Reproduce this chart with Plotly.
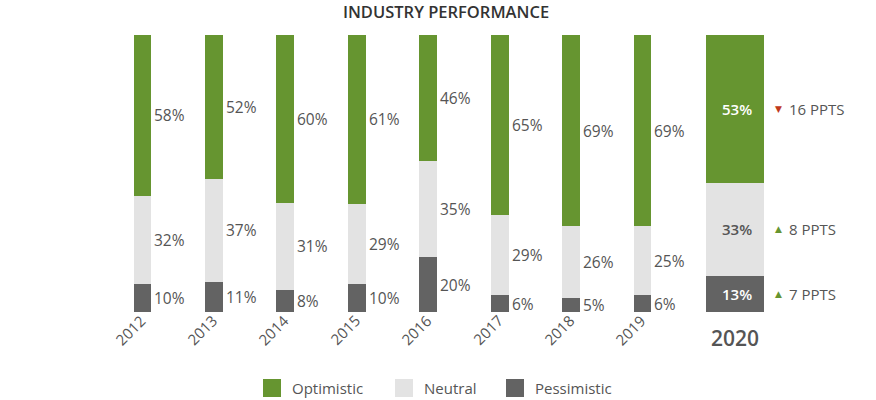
import plotly.graph_objects as go

years = ["2012", "2013", "2014", "2015", "2016", "2017", "2018", "2019", "2020"]
optimistic = [58, 52, 60, 61, 46, 65, 69, 69, 53]
neutral = [32, 37, 31, 29, 35, 29, 26, 25, 33]
pessimistic = [10, 11, 8, 10, 20, 6, 5, 6, 13]

GREEN = "#669530"
LIGHT = "#e3e3e3"
DARK = "#636363"
TXT = "#555555"
RED = "#c0391b"
FONT = "Open Sans"

n = len(years)
xs = list(range(n))
widths = [0.25] * (n - 1) + [0.81]
offsets = [-0.125] * (n - 1) + [-0.11]

fig = go.Figure()
series = [("Pessimistic", pessimistic, DARK),
          ("Neutral", neutral, LIGHT),
          ("Optimistic", optimistic, GREEN)]
for name, vals, col in series:
    fig.add_trace(go.Bar(x=xs, y=vals, name=name, marker=dict(color=col, line=dict(width=0)),
                         width=widths, offset=offsets, hoverinfo="skip", showlegend=False))

ann = []
for i, y in enumerate(years):
    tot = optimistic[i] + neutral[i] + pessimistic[i]
    base = 0
    for _, vals, col in series:
        v = vals[i]
        mid = (base + v / 2) / tot * 100
        base += v
        if i < n - 1:
            ann.append(dict(x=i, y=mid, text=f"{v}%", showarrow=False, xanchor="left",
                            xshift=10, font=dict(family=FONT, size=15.5, color=TXT)))
        else:
            c = TXT if col == LIGHT else "white"
            ann.append(dict(x=i, y=mid, text=f"{v}%", showarrow=False, xanchor="center",
                            xshift=23, font=dict(family=FONT, size=15, color=c, weight=600)))
    # category labels
    if i < n - 1:
        ann.append(dict(x=i, y=0, text=y, showarrow=False, textangle=-45,
                        xshift=-12, yshift=-18, font=dict(family=FONT, size=15, color=TXT)))
    else:
        ann.append(dict(x=i, y=0, text=y, showarrow=False,
                        xshift=21, yshift=-26, font=dict(family=FONT, size=21, color=TXT, weight=600)))

# change vs previous year, next to the last bar
last, prev = n - 1, n - 2
tot = optimistic[last] + neutral[last] + pessimistic[last]
changes = [(optimistic[last] - optimistic[prev], (pessimistic[last] + neutral[last] + optimistic[last] / 2) / tot * 100),
           (neutral[last] - neutral[prev], (pessimistic[last] + neutral[last] / 2) / tot * 100),
           (pessimistic[last] - pessimistic[prev], (pessimistic[last] / 2) / tot * 100)]
for d, ymid in changes:
    sym = "▲" if d > 0 else "▼"
    col = GREEN if d > 0 else RED
    ann.append(dict(x=last, y=ymid, text=sym, showarrow=False, xanchor="center",
                    xshift=65, font=dict(family="DejaVu Sans", size=9, color=col)))
    ann.append(dict(x=last, y=ymid, text=f"{abs(d)} PPTS", showarrow=False, xanchor="left",
                    xshift=73, font=dict(family=FONT, size=15, color=TXT)))

# manual legend (paper coords; plot area 750 x 277 px)
L, T, PW, PH = 71, 35, 750, 277

def px_x(p):
    return (p - L) / PW

def px_y(p):
    return (T + PH - p) / PH

shapes = []
legend_items = [("Optimistic", GREEN, 263), ("Neutral", LIGHT, 395), ("Pessimistic", DARK, 506)]
for name, col, x0 in legend_items:
    shapes.append(dict(type="rect", xref="paper", yref="paper", x0=px_x(x0), x1=px_x(x0 + 18),
                       y0=px_y(397), y1=px_y(379), fillcolor=col, line=dict(width=0)))
    ann.append(dict(xref="paper", yref="paper", x=px_x(x0 + 27), y=px_y(388), text=name,
                    showarrow=False, xanchor="left", yanchor="middle",
                    font=dict(family=FONT, size=15, color=TXT)))

fig.update_layout(
    width=876, height=400,
    barmode="stack", barnorm="percent",
    margin=dict(l=L, r=876 - L - PW, t=T, b=400 - T - PH),
    plot_bgcolor="white", paper_bgcolor="white",
    title=dict(text="INDUSTRY PERFORMANCE", x=0.5, xref="paper", xanchor="center",
               y=1 - 12 / 400, yanchor="middle", yref="container",
               font=dict(family=FONT, size=16.5, color="#333333", weight=600)),
    xaxis=dict(range=[-1, 9.5], showticklabels=False, showgrid=False,
               zeroline=False, showline=False, fixedrange=True),
    yaxis=dict(range=[0, 100], showticklabels=False, showgrid=False, zeroline=False,
               showline=False, fixedrange=True),
    annotations=ann,
    shapes=shapes,
    showlegend=False,
    hovermode=False,
)

fig.write_html("out.html", config={"displayModeBar": False},
               post_script="document.body.style.margin='0px';document.body.style.overflow='hidden';")
